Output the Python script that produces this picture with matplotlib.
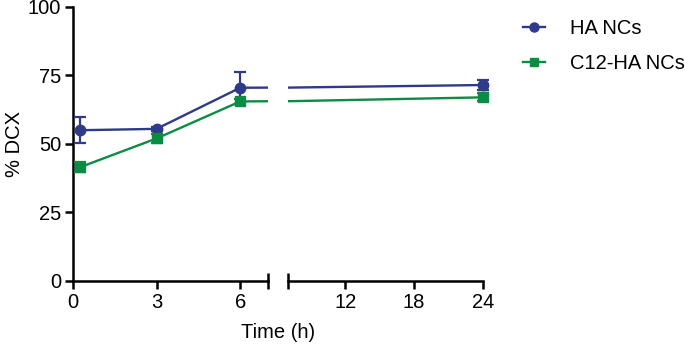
import matplotlib
matplotlib.use("Agg")
import matplotlib.pyplot as plt
from matplotlib.lines import Line2D

plt.rcParams['font.family'] = ['Liberation Sans', 'DejaVu Sans']

# data
time_h = [0.25, 3, 6, 24]
ha_mean = [55.0, 55.5, 70.5, 71.5]
ha_err = [4.8, 0.8, 5.8, 2.0]
c12_mean = [41.5, 52.0, 65.5, 67.0]
c12_err = [1.8, 1.5, 1.0, 1.5]

series = [
    ('HA NCs', ha_mean, ha_err, '#2f3a8a', 'o', 7.5),
    ('C12-HA NCs', c12_mean, c12_err, '#0b8c43', 's', 7),
]

fs = 14.5

fig = plt.figure(figsize=(6.85, 3.46), dpi=100)
axL = fig.add_axes([0.1066, 0.188, 0.2847, 0.792])
axR = fig.add_axes([0.4204, 0.188, 0.2847, 0.792])

for ax, lim in [(axL, (0, 7)), (axR, (7, 24))]:
    for name, m, e, col, mk, ms in series:
        ax.plot(time_h, m, color=col, lw=1.7, zorder=2)
        xs = [t for t in time_h if lim[0] <= t <= lim[1]]
        ys = [v for t, v in zip(time_h, m) if lim[0] <= t <= lim[1]]
        es = [v for t, v in zip(time_h, e) if lim[0] <= t <= lim[1]]
        ax.errorbar(xs, ys, yerr=es, fmt=mk, color=col, ms=ms, capsize=4.5,
                    elinewidth=1.6, capthick=1.6, clip_on=False, zorder=3)
    ax.set_xlim(*lim)
    ax.set_ylim(0, 100)
    for s in ['top', 'right']:
        ax.spines[s].set_visible(False)
    ax.spines['bottom'].set_linewidth(1.8)
    ax.spines['left'].set_linewidth(1.8)
    ax.tick_params(width=1.8, length=6, labelsize=fs, color='black', pad=2.5)

axL.set_xticks([0, 3, 6])
axL.set_yticks([0, 25, 50, 75, 100])
axL.set_ylabel('% DCX', fontsize=fs, labelpad=3)
axR.set_xticks([12, 18, 24])
axR.spines['left'].set_visible(False)
axR.tick_params(axis='y', left=False, labelleft=False)

# break bars at the ends of the x axis segments
for ax, xb in [(axL, 7), (axR, 7)]:
    ax.plot([xb, xb], [-2.8, 2.8], color='black', lw=1.8, clip_on=False,
            solid_capstyle='butt', zorder=4)

fig.text(0.4066, 0.038, 'Time (h)', ha='center', va='center', fontsize=fs)

handles = [Line2D([], [], color=col, marker=mk, ms=ms - 1, lw=1.7)
           for name, m, e, col, mk, ms in series]
fig.legend(handles, [s[0] for s in series], loc='upper left',
           bbox_to_anchor=(0.737, 0.997), frameon=False, fontsize=fs,
           handlelength=1.1, labelspacing=0.8, handletextpad=1.25)

plt.savefig('out.png', dpi=100)
